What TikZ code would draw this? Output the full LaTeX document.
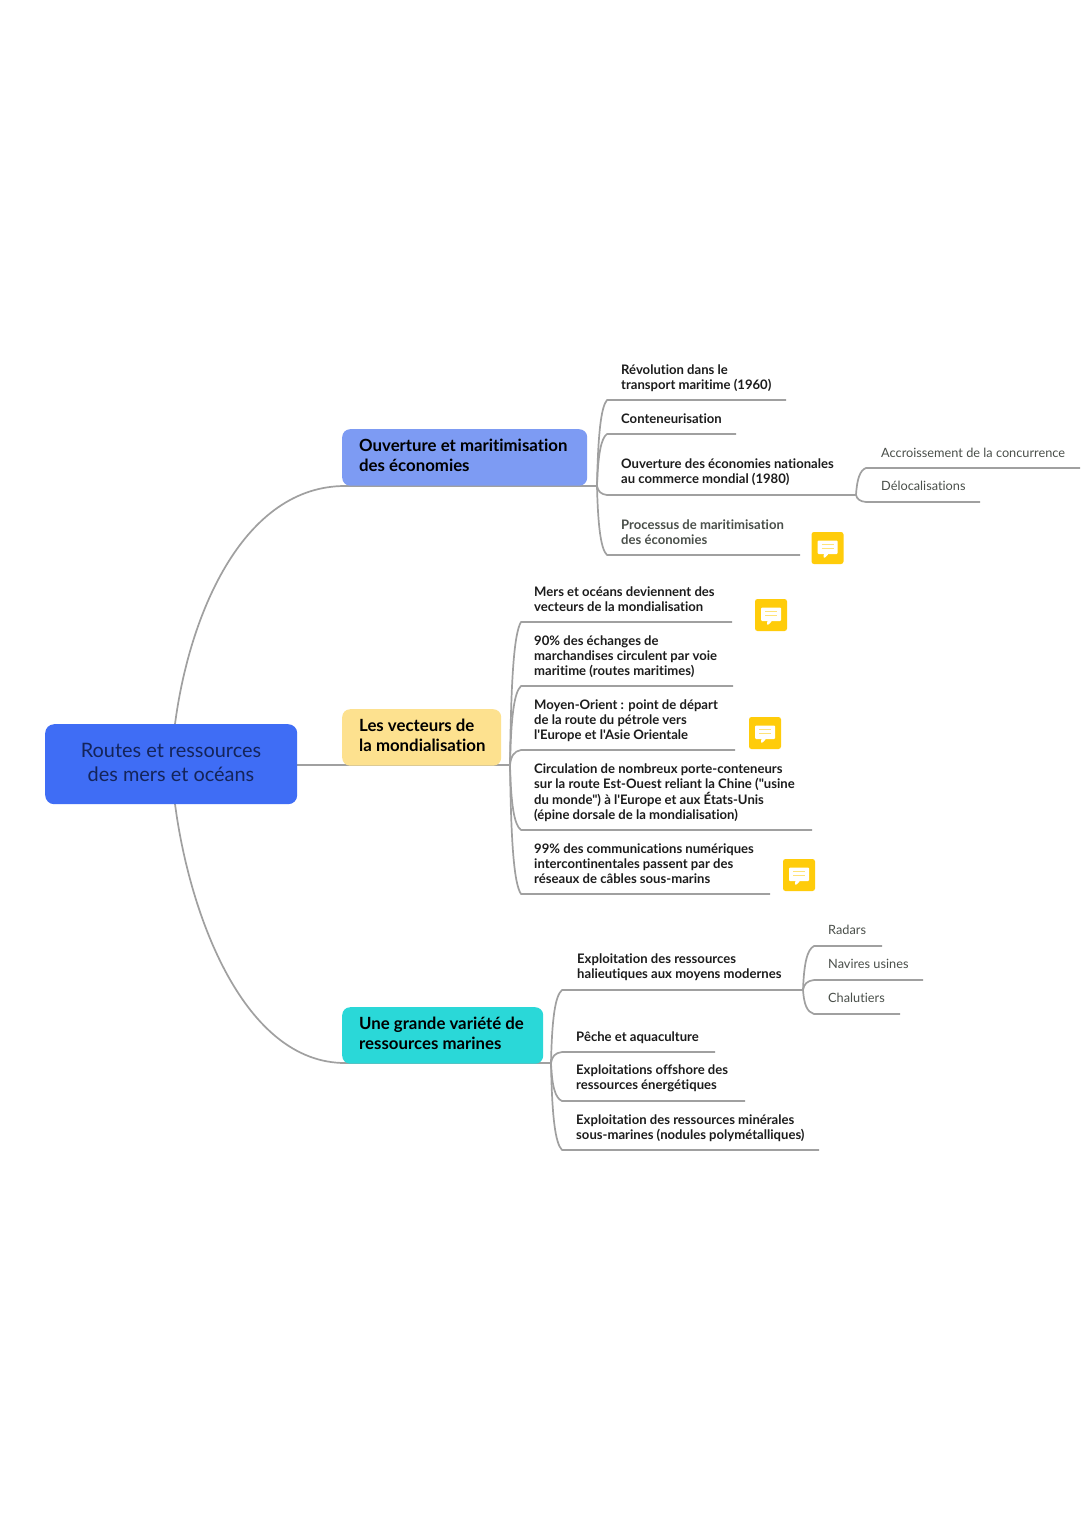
\documentclass[tikz,border=0pt]{standalone}
\usepackage{fontspec}
\setmainfont{Lato}[Ligatures={TeXOff,CommonOff}]
\usetikzlibrary{calc}
\definecolor{linegray}{HTML}{A0A0A0}
\definecolor{rootblue}{HTML}{3F6DF5}
\definecolor{boxperi}{HTML}{7D9BF3}
\definecolor{boxyellow}{HTML}{FDE18F}
\definecolor{boxteal}{HTML}{2AD8D8}
\definecolor{noteyellow}{HTML}{FFCC0A}
\definecolor{rootink}{HTML}{14245A}
\definecolor{leafink}{HTML}{1C1C1C}
\definecolor{softink}{HTML}{4A4F4A}
\tikzset{
  conn/.style={draw=linegray,line width=1.7pt},
  rootbox/.style={fill=rootblue,rounded corners=9pt,minimum width=252pt,minimum height=80pt,inner sep=0pt,anchor=north west},
  roottext/.style={text=rootink,align=center,inner sep=0pt,font=\fontsize{19.9}{24}\selectfont},
  topicbox/.style={rounded corners=8pt,inner sep=0pt,minimum height=56.5pt,anchor=north west},
  topictext/.style={anchor=west,align=left,inner sep=0pt,text=black,font=\bfseries\fontsize{16.8}{20}\selectfont},
  leaf/.style={anchor=west,align=left,inner sep=0pt,text=leafink,font=\bfseries\fontsize{13.1}{15.2}\selectfont},
  softleaf/.style={leaf,text=softink},
  subleaf/.style={anchor=west,align=left,inner sep=0pt,text=softink,font=\fontsize{12.75}{15.2}\selectfont},
  notebox/.style={fill=noteyellow,rounded corners=2.5pt,minimum size=32pt,inner sep=0pt,
    path picture={
      \fill[white,rounded corners=1pt] ($(path picture bounding box.center)+(-10,-7.5)$) rectangle ($(path picture bounding box.center)+(10,6)$);
      \fill[white] ($(path picture bounding box.center)+(-4,5)$) -- ($(path picture bounding box.center)+(-4,11)$) -- ($(path picture bounding box.center)+(2,5)$) -- cycle;
      \draw[noteyellow!55,line width=1pt] ($(path picture bounding box.center)+(-6,-3.5)$) -- ($(path picture bounding box.center)+(6,-3.5)$);
      \draw[noteyellow!55,line width=1pt] ($(path picture bounding box.center)+(-6,0)$) -- ($(path picture bounding box.center)+(6,0)$);
    }},
}
% \lf{junction}{name}{x start}{y}{x end}: a bracket arm from a junction, then its rule
\newcommand{\lf}[5]{%
  \coordinate (#2s) at (#3,#4);
  \coordinate (#2e) at (#5,#4);
  \draw[conn,line join=round] (#1) .. controls ($(#1)!0.6!(#1|-#2s)+(1,0)$) and ($(#1)!0.92!(#1|-#2s)+(4,0)$) .. (#2s) -- (#2e);
}
\begin{document}
\begin{tikzpicture}[x=1pt,y=-1pt]
\useasboundingbox (0,0) rectangle (1080,1528);
\fill[white] (0,0) rectangle (1080,1528);

% connectors first
\coordinate (rootN) at (175,724);
\coordinate (rootS) at (175,804);
\coordinate (rootE) at (297,765);
\coordinate (j1) at (597,486);
\coordinate (j2) at (510,765);
\coordinate (j3) at (551,1063);
\coordinate (j4) at (856,495);
\coordinate (j5) at (803,990);
\coordinate (k1) at (345,486);
\coordinate (k3) at (345,1063);

\draw[conn] (rootN) .. controls (190,610) and (245,486) .. (k1) -- (j1);
\draw[conn] (rootS) .. controls (190,918) and (245,1063) .. (k3) -- (j3);
\draw[conn] (rootE) -- (j2);

\lf{j1}{a1}{607}{400}{786}
\lf{j1}{a2}{607}{434}{736}
\lf{j1}{a3}{607}{495}{856}
\lf{j1}{a4}{607}{555}{800}
\lf{j4}{s1}{866}{468}{1080}
\lf{j4}{s2}{866}{502}{980}
\lf{j2}{b1}{521}{622}{732}
\lf{j2}{b2}{521}{686}{733}
\lf{j2}{b3}{521}{750}{735}
\lf{j2}{b4}{521}{830}{812}
\lf{j2}{b5}{521}{894}{770}
\lf{j3}{c1}{562}{990}{803}
\lf{j3}{c2}{562}{1052}{715}
\lf{j3}{c3}{562}{1101}{745}
\lf{j3}{c4}{562}{1150}{819}
\lf{j5}{r1}{814}{946}{882}
\lf{j5}{r2}{814}{980}{923}
\lf{j5}{r3}{814}{1014}{900}

% main nodes
\node[rootbox] (root) at (45,724) {};
\node[roottext] (roott) at (171,762) {Routes et ressources\\des mers et océans};
\node[topicbox,fill=boxperi,minimum width=245pt] (t1) at (342,429) {};
\node[topictext] (t1t) at (359,455.5) {Ouverture et maritimisation\\des économies};
\node[topicbox,fill=boxyellow,minimum width=159pt] (t2) at (342,709) {};
\node[topictext] (t2t) at (359,735.5) {Les vecteurs de\\la mondialisation};
\node[topicbox,fill=boxteal,minimum width=201pt] (t3) at (342,1007) {};
\node[topictext] (t3t) at (359,1033.5) {Une grande variété de\\ressources marines};

% leaves
\node[leaf] (la1) at (621,378) {Révolution dans le\\transport maritime (1960)};
\node[leaf] (la2) at (621,419) {Conteneurisation};
\node[leaf] (la3) at (621,472) {Ouverture des économies nationales\\au commerce mondial (1980)};
\node[softleaf] (la4) at (621,532.5) {Processus de maritimisation\\des économies};
\node[subleaf] (ls1) at (881,452.5) {Accroissement de la concurrence};
\node[subleaf] (ls2) at (881,486) {Délocalisations};

\node[leaf] (lb1) at (534,599.5) {Mers et océans deviennent des\\vecteurs de la mondialisation};
\node[leaf] (lb2) at (534,656.5) {90\% des échanges de\\marchandises circulent par voie\\maritime (routes maritimes)};
\node[leaf] (lb3) at (534,720.7) {Moyen-Orient : point de départ\\de la route du pétrole vers\\l'Europe et l'Asie Orientale};
\node[leaf] (lb4) at (534,792.7) {Circulation de nombreux porte-conteneurs\\sur la route Est-Ouest reliant la Chine ("usine\\du monde") à l'Europe et aux États-Unis\\(épine dorsale de la mondialisation)};
\node[leaf] (lb5) at (534,863.5) {99\% des communications numériques\\intercontinentales passent par des\\réseaux de câbles sous-marins};

\node[leaf] (lc1) at (577,967) {Exploitation des ressources\\halieutiques aux moyens modernes};
\node[leaf] (lc2) at (576,1037.7) {Pêche et aquaculture};
\node[leaf] (lc3) at (576,1078.7) {Exploitations offshore des\\ressources énergétiques};
\node[leaf] (lc4) at (576,1128) {Exploitation des ressources minérales\\sous-marines (nodules polymétalliques)};
\node[subleaf] (lr1) at (828,930.2) {Radars};
\node[subleaf] (lr2) at (828,964) {Navires usines};
\node[subleaf] (lr3) at (828,998) {Chalutiers};

% notes
\node[notebox] (n1) at (827.5,548) {};
\node[notebox] (n2) at (771,615) {};
\node[notebox] (n3) at (765,733) {};
\node[notebox] (n4) at (799,875) {};
\end{tikzpicture}
\end{document}
